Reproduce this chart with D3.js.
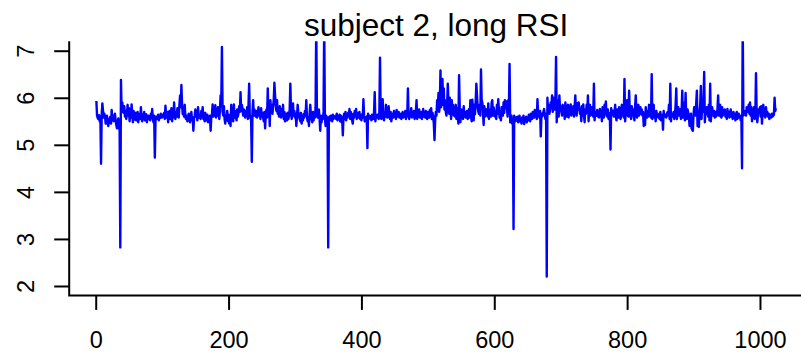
<!DOCTYPE html>
<html lang="en">
<head>
  <meta charset="utf-8">
  <title>subject 2, long RSI</title>
  <script src="https://d3js.org/d3.v7.min.js"></script>
  <style>
    html, body {
      margin: 0;
      padding: 0;
      background: #fff;
    }
    #chart { display: block; }
    .tick-label { font-family: "Liberation Sans", Arial, Helvetica, sans-serif; font-size: 23.5px; fill: #000; }
    .title { font-family: "Liberation Sans", Arial, Helvetica, sans-serif; font-size: 31.5px; fill: #000; }
  </style>
</head>
<body>
  <svg id="chart" width="801" height="353"></svg>

  <script>
    const title = 'subject 2, long RSI';
    const xTicks = [0, 200, 400, 600, 800, 1000];
    const yTicks = [2, 3, 4, 5, 6, 7];
    const yLimits = [2, 7];

    // series values (index 1..1024), 20 per row
    const rsi = [
      5.93,5.62,5.57,5.55,5.63,5.50,5.60,4.60,5.65,5.88,5.72,5.58,5.66,5.60,5.45,5.52,5.62,5.48,5.40,5.55,
      5.50,5.60,5.45,5.74,5.58,5.62,5.50,5.55,5.66,5.52,5.42,5.35,5.48,5.56,5.40,5.30,2.82,6.38,5.70,5.90,
      5.75,5.68,5.82,5.60,5.72,5.55,5.66,5.85,5.62,5.78,5.50,5.70,5.58,5.86,5.64,5.48,5.72,5.60,5.54,5.68,
      5.52,5.62,5.70,5.48,5.58,5.66,5.55,5.80,5.60,5.50,5.64,5.57,5.70,5.52,5.60,5.65,5.48,5.58,5.62,5.55,
      5.60,5.52,5.66,5.58,5.76,5.55,5.48,5.62,4.73,5.50,5.60,5.55,5.58,5.64,5.52,5.60,5.57,5.66,5.62,5.58,
      5.64,5.60,5.68,5.55,5.83,5.62,5.58,5.70,5.48,5.65,5.72,5.55,5.62,5.78,5.50,5.66,5.58,5.90,5.62,5.55,
      5.70,5.60,5.78,5.66,5.58,5.85,6.05,5.80,6.27,5.85,5.65,5.72,5.60,5.85,5.58,5.55,5.62,5.50,5.58,5.66,
      5.55,5.48,5.60,5.70,5.52,5.58,5.30,5.55,5.62,5.75,5.60,5.68,5.52,5.80,5.64,5.58,5.62,5.55,5.72,5.60,
      5.80,5.55,5.62,5.50,5.68,5.58,5.52,5.64,5.48,5.60,5.55,5.62,5.30,5.58,5.65,5.86,5.60,5.75,5.62,5.84,
      5.58,5.70,5.62,5.80,5.65,5.55,5.72,6.05,5.85,7.08,5.70,5.62,5.82,5.55,5.45,5.62,5.58,5.72,5.50,5.64,
      5.45,5.62,5.40,5.85,5.55,5.68,5.50,5.86,5.58,5.72,5.62,5.52,5.75,5.60,5.68,5.82,5.70,6.12,5.72,5.85,
      5.76,5.62,5.75,5.68,5.58,5.72,5.62,5.80,5.55,5.85,6.30,5.58,5.62,5.50,4.64,5.70,5.95,5.62,5.75,5.66,
      5.60,5.72,5.58,5.68,5.80,5.62,5.70,5.55,5.78,5.62,5.68,5.58,5.50,5.70,5.35,5.64,5.75,5.58,6.20,5.60,
      5.82,5.40,5.95,5.70,5.85,5.66,5.80,5.95,6.32,6.05,5.85,5.72,5.95,5.66,5.75,5.60,5.82,5.70,5.58,5.76,
      5.62,5.85,5.55,5.70,5.50,5.66,5.60,5.52,5.68,5.55,5.62,5.75,6.30,5.70,5.55,5.65,5.88,5.62,5.72,5.58,
      5.66,5.40,5.60,5.85,5.70,5.62,5.55,5.50,5.68,5.45,5.60,5.52,5.65,5.58,5.72,5.62,5.95,5.60,5.50,5.58,
      5.40,5.66,5.85,5.62,5.55,5.48,5.70,5.52,5.64,5.58,5.80,7.60,5.65,5.58,5.72,5.75,5.55,5.30,5.62,5.48,
      5.60,5.55,5.70,7.60,5.58,5.40,5.62,5.52,5.58,2.82,5.55,5.60,5.52,5.62,5.58,5.50,5.64,5.55,5.60,5.58,
      5.62,5.55,5.66,5.52,5.60,5.58,5.64,5.50,5.62,5.48,5.58,5.20,5.60,5.66,5.55,5.70,5.52,5.64,5.58,5.68,
      5.62,5.76,5.55,5.70,5.60,5.52,5.45,5.66,5.58,5.72,5.62,5.76,5.55,5.68,5.60,5.58,5.70,5.55,5.62,5.52,
      5.65,5.58,5.97,5.62,5.50,5.58,5.55,5.60,4.93,5.66,5.55,5.62,5.58,5.60,5.52,5.64,5.60,5.55,5.68,6.12,
      5.50,5.62,5.58,5.64,5.60,5.55,5.68,6.85,5.60,5.55,5.72,5.97,5.62,5.52,5.66,5.60,5.85,5.62,5.58,5.66,
      5.82,5.60,5.55,5.70,5.50,5.62,5.66,5.58,5.72,5.60,5.68,5.55,5.74,5.62,5.60,5.70,5.58,5.64,5.66,5.55,
      5.62,5.70,5.58,5.66,5.60,5.72,5.55,5.64,5.62,6.20,5.60,5.55,5.68,5.62,5.78,5.58,5.66,5.60,5.72,5.55,
      5.62,5.70,5.95,5.55,5.66,5.60,5.75,5.58,5.64,5.70,5.55,5.62,5.76,5.60,5.68,5.58,5.72,5.64,5.55,5.70,
      5.62,5.58,5.74,5.66,5.78,5.55,5.68,5.60,5.45,5.10,5.52,5.70,5.62,5.95,5.80,6.10,5.70,5.85,6.58,5.80,
      5.90,6.40,5.85,6.20,5.75,5.95,5.70,5.62,5.80,6.30,5.90,5.66,6.00,5.80,5.55,5.95,5.72,5.85,5.62,5.70,
      5.60,5.85,5.55,5.78,5.66,5.45,6.48,5.80,5.48,5.70,5.75,5.62,5.55,5.82,5.60,5.70,5.58,5.66,5.72,5.55,
      5.64,5.76,5.58,5.95,5.62,5.50,5.96,5.70,5.52,5.85,5.65,5.92,6.30,6.05,5.80,5.70,5.66,5.85,5.62,6.60,
      5.95,5.90,5.70,5.42,5.82,5.60,5.76,5.66,5.70,5.60,5.88,5.55,5.66,5.75,5.60,5.90,5.95,5.62,5.80,5.72,
      5.60,5.70,5.55,5.85,5.66,5.97,5.75,5.58,5.62,5.52,5.80,5.70,5.62,5.90,5.68,5.95,5.78,5.92,5.85,5.60,
      5.95,5.75,6.72,5.48,5.55,5.62,5.45,5.50,3.21,5.62,5.55,5.50,5.58,5.52,5.60,5.48,5.56,5.62,5.50,5.54,
      5.45,5.58,5.52,5.62,5.44,5.55,5.50,5.60,5.48,5.56,5.52,5.64,5.58,5.50,5.66,5.60,5.55,5.70,5.62,5.58,
      5.74,5.60,5.66,5.55,5.97,5.70,5.62,5.58,5.72,5.18,5.64,5.60,5.68,5.70,5.76,5.62,5.55,5.66,2.20,6.00,
      5.72,5.85,5.66,5.75,5.90,5.80,6.05,5.70,6.00,5.85,5.75,5.90,6.87,5.48,5.95,5.70,5.60,6.05,5.75,5.82,
      5.70,5.62,5.85,5.66,5.80,5.55,5.90,5.70,5.60,5.76,5.85,5.58,5.80,5.72,5.86,5.62,5.78,5.66,5.82,5.60,
      5.80,6.05,5.70,5.62,5.88,5.75,5.90,5.80,5.66,5.75,5.50,5.82,5.70,5.86,5.62,5.48,5.75,5.66,5.85,5.70,
      6.05,5.50,5.75,5.85,5.62,5.70,5.80,5.66,5.60,6.30,5.52,5.70,5.66,5.62,5.74,5.60,5.70,5.58,5.76,5.64,
      5.72,5.50,5.80,5.66,5.58,5.85,5.70,5.92,5.62,5.60,5.75,5.55,5.68,5.62,4.90,5.78,5.70,5.64,5.72,5.60,
      5.68,5.85,5.60,5.52,5.75,5.66,5.58,5.80,5.70,5.55,5.62,5.85,5.72,5.66,5.58,6.40,5.50,5.70,5.85,5.95,
      5.62,5.60,6.15,5.70,5.62,5.55,5.82,5.66,5.75,5.60,5.52,5.80,6.05,5.70,5.58,5.66,5.85,5.62,5.70,5.80,
      5.66,5.75,5.62,5.70,5.40,5.58,5.42,5.80,5.66,5.58,5.72,5.60,5.85,5.62,5.70,5.58,6.50,5.55,5.76,5.85,
      5.58,5.66,5.50,5.72,5.60,5.66,5.58,5.62,5.55,5.70,5.52,5.60,5.64,5.32,5.72,5.60,5.64,5.62,5.58,5.66,
      5.70,5.62,5.85,5.55,6.30,5.50,5.66,5.60,5.62,5.70,5.55,5.64,5.85,6.20,5.55,5.70,5.80,5.62,5.66,5.75,
      5.55,5.70,6.15,5.58,5.66,5.90,5.52,6.10,5.60,5.55,5.75,5.68,5.60,5.40,5.58,5.66,5.35,5.32,5.30,5.66,
      5.80,5.70,5.62,5.88,6.15,5.40,5.62,5.38,5.70,5.85,6.25,5.55,5.82,5.70,5.95,6.55,5.48,5.70,5.66,5.80,
      5.75,5.60,5.85,5.52,6.30,5.50,5.70,5.80,5.66,5.62,5.72,5.58,5.70,5.60,5.66,5.75,6.05,5.62,5.70,5.85,
      5.60,5.58,5.80,5.62,5.70,5.66,5.75,5.60,5.68,5.55,5.76,5.62,5.70,5.58,5.66,5.75,5.60,5.62,5.55,5.70,
      5.58,5.66,5.52,5.62,5.70,5.55,5.60,5.66,5.58,5.62,5.52,5.60,4.50,7.60,5.62,5.66,5.70,5.72,5.62,5.80,
      5.75,5.70,5.85,5.66,5.90,5.62,5.80,5.50,5.70,5.66,5.80,5.55,5.62,6.52,5.70,5.48,5.66,5.75,5.70,5.80,
      5.60,5.82,5.45,5.70,5.85,5.62,5.75,5.58,5.80,5.66,5.70,5.60,5.66,5.55,5.64,5.62,5.58,5.66,5.60,5.62,
      5.64,6.00,5.72,5.78
    ];

    const svg = d3.select('#chart');
    const n = rsi.length;

    // R-style 4% padding around the data range
    const xPad = 0.04 * (n - 1);
    const yPad = 0.04 * (yLimits[1] - yLimits[0]);
    const plot = { left: 69.2, right: 803.1, top: 41.3, bottom: 295.4 };

    const x = d3.scaleLinear().domain([1 - xPad, n + xPad]).range([plot.left, plot.right]);
    const y = d3.scaleLinear().domain([yLimits[0] - yPad, yLimits[1] + yPad]).range([plot.bottom, plot.top]);

    svg.append('clipPath').attr('id', 'plot-clip')
      .append('rect')
        .attr('x', plot.left).attr('y', plot.top)
        .attr('width', plot.right - plot.left).attr('height', plot.bottom - plot.top);

    const line = d3.line().x((d, i) => x(i + 1)).y(d => y(d));

    svg.append('path')
      .datum(rsi)
      .attr('clip-path', 'url(#plot-clip)')
      .attr('fill', 'none')
      .attr('stroke', '#0000ff')
      .attr('stroke-width', 2.4)
      .attr('stroke-linejoin', 'round')
      .attr('d', line);

    // L-shaped box
    svg.append('path')
      .attr('fill', 'none')
      .attr('stroke', '#000')
      .attr('stroke-width', 2)
      .attr('d', `M${plot.left},${plot.top}V${plot.bottom}H${plot.right}`);

    // bottom axis
    const xAxis = svg.append('g')
      .attr('transform', `translate(0,${plot.bottom})`)
      .call(d3.axisBottom(x).tickValues(xTicks).tickSize(14.5).tickPadding(0).tickFormat(d3.format('d')));
    xAxis.select('.domain').remove();
    xAxis.selectAll('.tick line').attr('stroke', '#000').attr('stroke-width', 2);
    xAxis.selectAll('.tick text')
      .attr('class', 'tick-label')
      .attr('y', 52.6).attr('dy', null)
      .attr('font-size', null).attr('font-family', null);

    // left axis, labels parallel to the axis
    const yAxis = svg.append('g')
      .attr('transform', `translate(${plot.left},0)`)
      .call(d3.axisLeft(y).tickValues(yTicks).tickSize(15).tickFormat(d3.format('d')));
    yAxis.select('.domain').remove();
    yAxis.selectAll('.tick line').attr('stroke', '#000').attr('stroke-width', 2);
    yAxis.selectAll('.tick text')
      .attr('class', 'tick-label')
      .attr('x', null).attr('dy', null)
      .attr('text-anchor', 'middle')
      .attr('transform', 'translate(-35.5,0) rotate(-90)')
      .attr('font-size', null).attr('font-family', null);

    svg.append('text')
      .attr('class', 'title')
      .attr('x', (plot.left + plot.right) / 2)
      .attr('y', 35.5)
      .attr('text-anchor', 'middle')
      .text(title);
  </script>
</body>
</html>
